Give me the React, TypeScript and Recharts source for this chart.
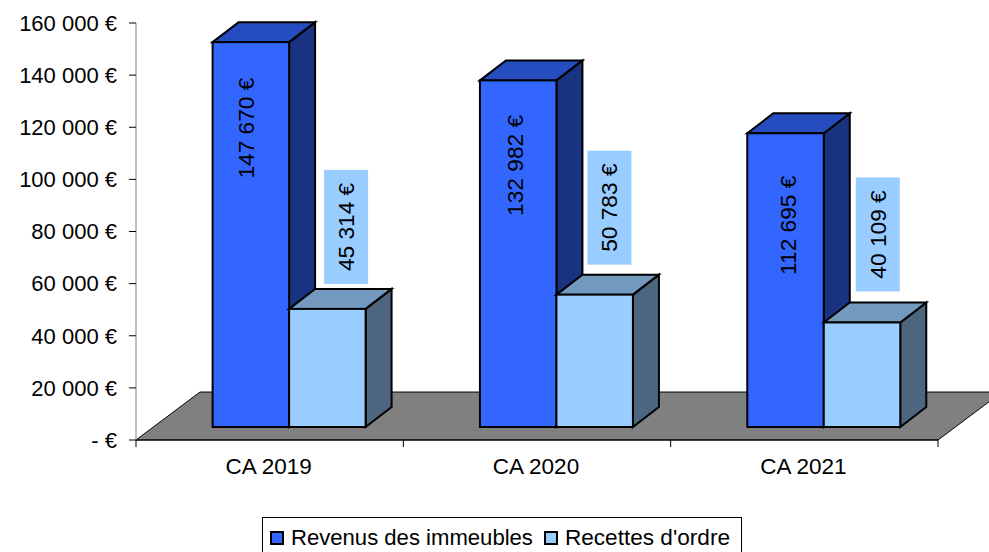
import { BarChart, Bar, XAxis, YAxis, ReferenceArea, Legend } from "recharts";

const categories = ["CA 2019", "CA 2020", "CA 2021"];
const revenus = [147670, 132982, 112695];
const recettes = [45314, 50783, 40109];
const yTicks = [0, 20000, 40000, 60000, 80000, 100000, 120000, 140000, 160000];

const data = categories.map((name, i) => ({
  name,
  revenus: revenus[i],
  recettes: recettes[i],
}));

const FONT = "'Liberation Sans', Arial, sans-serif";

// fake 3d: the bars stand on the floor, a bit behind the axis line
const FRONT_DX = 19.6;
const FRONT_DY = -13;
const DEPTH_X = 26;
const DEPTH_Y = 20;

const FLOOR_VALUE = 18400;

const fmtEuro = (v: number) => {
  if (v === 0) return "- €";
  return `${String(v).replace(/\B(?=(\d{3})+(?!\d))/g, " ")} €`;
};

const blueFaces = { front: "#3366ff", top: "#264dbf", side: "#1a3380" };
const lightFaces = { front: "#99ccff", top: "#7399bf", side: "#4c6680" };

// label centre, relative to the top of the front face
const blueLabelPos = [
  { dx: 33.5, dy: 86 },
  { dx: 35, dy: 85 },
  { dx: 41, dy: 92 },
];
const lightLabelPos = [
  { dx: 57, dy: -82 },
  { dx: 53, dy: -87 },
  { dx: 54, dy: -88 },
];

function Bar3D(props: any) {
  const { x, y, width, height, index, value, faces, labelPos, labelBox } = props;
  const left = x + FRONT_DX;
  const top = y + FRONT_DY;
  const right = left + width;
  const bottom = top + height;
  const pos = labelPos[index];
  const lx = left + pos.dx;
  const ly = top + pos.dy;
  const v = Array.isArray(value) ? value[1] : value;
  return (
    <g>
      <polygon
        points={`${right},${top} ${right + DEPTH_X},${top - DEPTH_Y} ${right + DEPTH_X},${bottom - DEPTH_Y} ${right},${bottom}`}
        fill={faces.side}
        stroke="#000"
        strokeWidth={2}
      />
      <polygon
        points={`${left},${top} ${left + DEPTH_X},${top - DEPTH_Y} ${right + DEPTH_X},${top - DEPTH_Y} ${right},${top}`}
        fill={faces.top}
        stroke="#000"
        strokeWidth={2}
      />
      <rect x={left} y={top} width={width} height={height} fill={faces.front} stroke="#000" strokeWidth={2} />
      {labelBox && <rect x={lx - 22} y={ly - 57} width={44} height={114} fill="#99ccff" />}
      <text
        x={lx}
        y={ly}
        transform={`rotate(-90 ${lx} ${ly})`}
        textAnchor="middle"
        dominantBaseline="central"
        fontFamily={FONT}
        fontSize={22.7}
        fill="#000"
      >
        {fmtEuro(v)}
      </text>
    </g>
  );
}

function Floor(props: any) {
  const { x, y, width, height } = props;
  return (
    <polygon
      points={`${x},${y + height} ${x + width},${y + height} ${x + width + 64},${y} ${x + 64},${y}`}
      fill="#808080"
      stroke="#000"
      strokeWidth={1}
    />
  );
}

function XTick(props: any) {
  const { x, y, payload, index } = props;
  const band = 802 / categories.length;
  const edge = x - band / 2;
  return (
    <g>
      <line x1={edge} x2={edge} y1={y - 8} y2={y - 1} stroke="#000" />
      {index === categories.length - 1 && (
        <line x1={edge + band} x2={edge + band} y1={y - 8} y2={y - 1} stroke="#000" />
      )}
      <text x={x - 1} y={y + 26} textAnchor="middle" fontFamily={FONT} fontSize={22.5} fill="#000">
        {payload.value}
      </text>
    </g>
  );
}

function LegendBox() {
  const swatch = (color: string) => (
    <span
      style={{
        display: "inline-block",
        width: 10,
        height: 10,
        background: color,
        border: "2px solid #000",
        marginRight: 7,
      }}
    />
  );
  return (
    <div
      style={{
        boxSizing: "border-box",
        width: 480,
        height: 40,
        border: "1px solid #000",
        background: "#fff",
        display: "flex",
        alignItems: "flex-start",
        paddingLeft: 7,
        paddingTop: 7,
        lineHeight: "26px",
        fontFamily: FONT,
        fontSize: 22.1,
        color: "#000",
        whiteSpace: "nowrap",
      }}
    >
      <span style={{ display: "flex", alignItems: "center", height: 26 }}>{swatch("#3366ff")}</span>
      <span style={{ marginRight: 11 }}>Revenus des immeubles</span>
      <span style={{ display: "flex", alignItems: "center", height: 26 }}>{swatch("#99ccff")}</span>
      <span style={{ fontSize: 22.6 }}>Recettes d'ordre</span>
    </div>
  );
}

export default function App() {
  return (
    <div style={{ position: "absolute", left: 0, top: 0, width: 989, height: 552, overflow: "hidden" }}>
      <BarChart
        width={989}
        height={552}
        data={data}
        margin={{ top: 23, right: 51, bottom: 42, left: 0 }}
        barSize={76.5}
        barGap={0}
        style={{ overflow: "hidden" }}
      >
        <ReferenceArea y1={0} y2={FLOOR_VALUE} shape={<Floor />} ifOverflow="visible" />
        <XAxis
          dataKey="name"
          height={30}
          axisLine={{ stroke: "#000" }}
          tickLine={false}
          tick={<XTick />}
          interval={0}
        />
        <YAxis
          domain={[0, 160000]}
          ticks={yTicks}
          width={136}
          interval={0}
          tickFormatter={fmtEuro}
          axisLine={{ stroke: "#808080", strokeWidth: 1 }}
          tickLine={{ stroke: "#000" }}
          tickSize={7}
          tickMargin={12}
          tick={{ fill: "#000", fontSize: 22, fontFamily: FONT }}
        />
        <Bar
          dataKey="revenus"
          isAnimationActive={false}
          shape={(p: any) => <Bar3D {...p} value={p.revenus} faces={blueFaces} labelPos={blueLabelPos} />}
        />
        <Bar
          dataKey="recettes"
          isAnimationActive={false}
          shape={(p: any) => <Bar3D {...p} value={p.recettes} faces={lightFaces} labelPos={lightLabelPos} labelBox />}
        />
        <Legend
          content={<LegendBox />}
          wrapperStyle={{ position: "absolute", left: 262, top: 517, width: 480, bottom: "auto" }}
        />
      </BarChart>
    </div>
  );
}
